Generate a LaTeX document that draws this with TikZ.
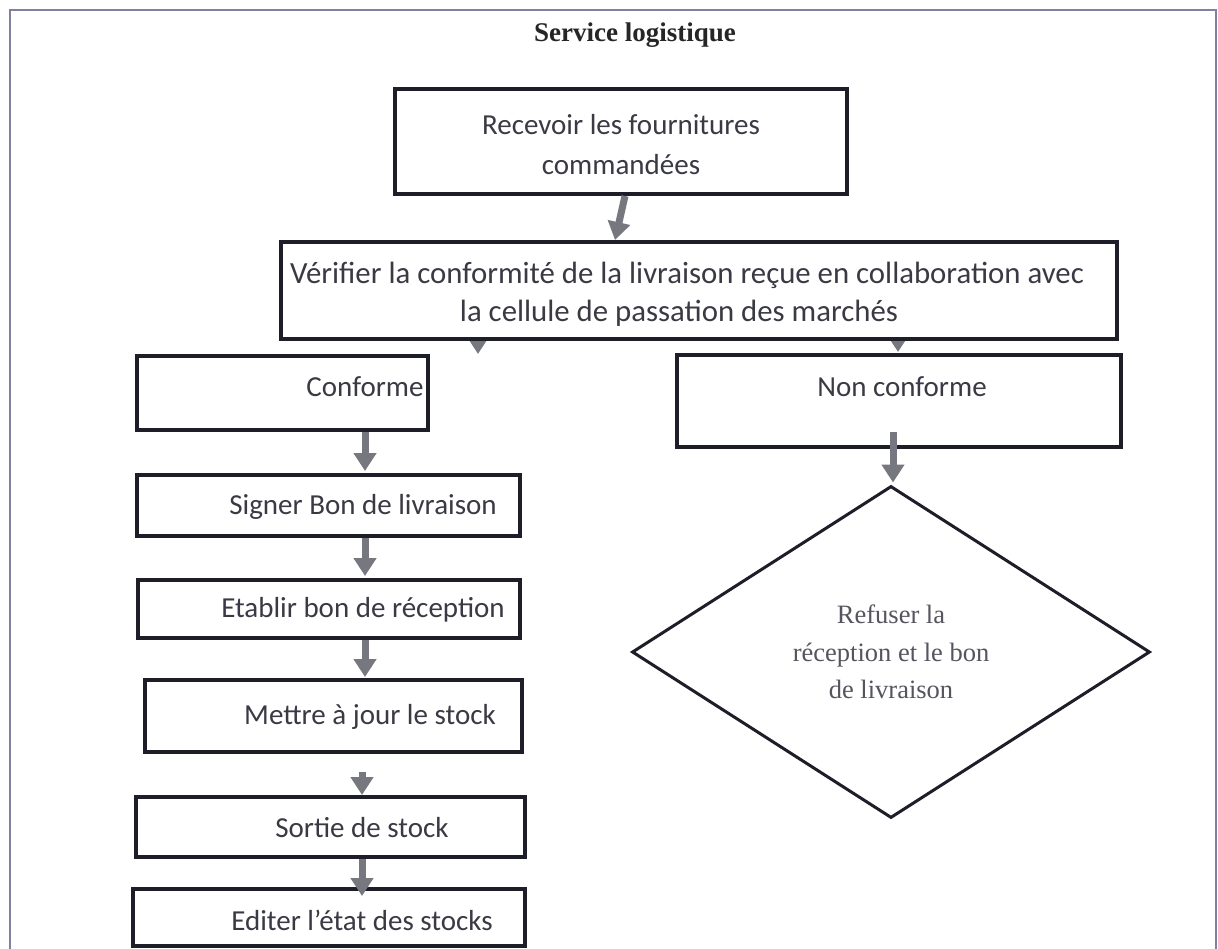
\documentclass[tikz,border=0pt]{standalone}
\usepackage{fontspec}
\setmainfont{Liberation Serif}
\newfontfamily\calfont{Carlito}
\usetikzlibrary{arrows.meta,shapes.geometric,calc}
\definecolor{boxline}{HTML}{1E1E28}
\definecolor{txt}{HTML}{3A3A44}
\definecolor{arrowc}{HTML}{77777F}
\definecolor{framec}{HTML}{8080A0}
\definecolor{dtxt}{HTML}{55555F}
\begin{document}
\begin{tikzpicture}[x=1pt,y=-1pt,
  box/.style={draw=boxline, line width=4pt, fill=white, rectangle, inner sep=0pt},
  btext/.style={font=\calfont\fontsize{29}{40}\selectfont, text=txt, align=center, inner sep=0pt},
  arr/.style={draw=arrowc, line width=7pt, -{Triangle[width=22pt,length=18pt]}},
  dia/.style={draw=boxline, line width=3pt, fill=white, diamond, inner sep=0pt,
    font=\fontsize{26.5}{37.5}\selectfont, text=dtxt, align=center}
]
\useasboundingbox (0,0) rectangle (1218,949);
\clip (0,0) rectangle (1218,949);
\fill[white] (0,0) rectangle (1218,949);
\draw[framec, line width=1.5pt] (10,10) rectangle (1216,1000);

% alignment coordinates
\coordinate (ac1) at (478,0);
\coordinate (ac5) at (898,0);
\coordinate (ac2) at (893,0);
\coordinate (ac3) at (365,0);
\coordinate (ac4) at (362,0);

\node[font=\bfseries\fontsize{27}{32}\selectfont, text=black!85] (title) at (635,35) {Service logistique};

% boxes under box2 arrows
\node[box, minimum width=291pt, minimum height=74pt] (conf) at (282.5,393) {};
\node[box, minimum width=444pt, minimum height=92pt] (nc) at (899,401) {};

\draw[arr] ($(conf.north -| ac1)+(0,-31)$) -- (conf.north -| ac1);
\draw[arr] ($(nc.north -| ac5)+(0,-31)$) -- ($(nc.north -| ac5)+(0,-1)$);

\node[box, minimum width=452pt, minimum height=105pt] (b1) at (621,141.5) {};
\node[box, minimum width=836pt, minimum height=97pt] (b2) at (699,290.5) {};
\node[box, minimum width=383pt, minimum height=61pt] (sig) at (328.5,505.5) {};
\node[box, minimum width=382pt, minimum height=58pt] (eta) at (329,609) {};
\node[box, minimum width=377pt, minimum height=72pt] (met) at (333.5,716) {};
\node[box, minimum width=389pt, minimum height=60pt] (sor) at (330.5,827) {};
\node[box, minimum width=392pt, minimum height=57pt] (edi) at (329,917.5) {};
\node[dia, minimum width=518pt, minimum height=332pt] (ref) at (891,652)
  {Refuser la\\réception et le bon\\de livraison};

% texts
\node[btext] (b1t) at (621,145) {Recevoir les fournitures\\commandées};
\node[btext, font=\calfont\fontsize{30.8}{40}\selectfont] (b2t1) at (687,275) {Vérifier la conformité de la livraison reçue en collaboration avec};
\node[btext, font=\calfont\fontsize{30.8}{40}\selectfont] (b2t2) at (679,313) {la cellule de passation des marchés};
\node[btext] (conft) at (365,387) {Conforme};
\node[btext] (nct) at (902,387) {Non conforme};
\node[btext] (sigt) at (363,507) {Signer Bon de livraison};
\node[btext] (etat) at (363,610) {Etablir bon de réception};
\node[btext] (mett) at (370,717) {Mettre à jour le stock};
\node[btext] (sort) at (362,828) {Sortie de stock};
\node[btext] (edit) at (362,920) {Editer l’état des stocks};

% arrows
\draw[arr] ([xshift=4pt]b1.south) -- ([xshift=-84pt]b2.north);
\draw[arr] (conf.south -| ac3) -- ($(sig.north -| ac3)+(0,-2)$);
\draw[arr] (sig.south -| ac3) -- ($(eta.north -| ac3)+(0,-2)$);
\draw[arr] (eta.south -| ac3) -- ($(met.north -| ac3)+(0,-1)$);
\draw[arr] ($(met.south -| ac4)+(0,18)$) -- (sor.north -| ac4);
\draw[arr] (sor.south -| ac4) -- ($(edi.north -| ac4)+(0,9)$);
\draw[arr] ($(nc.south -| ac2)+(0,-17)$) -- ($(ref.north -| ac2)+(0,-2)$);
\end{tikzpicture}
\end{document}
